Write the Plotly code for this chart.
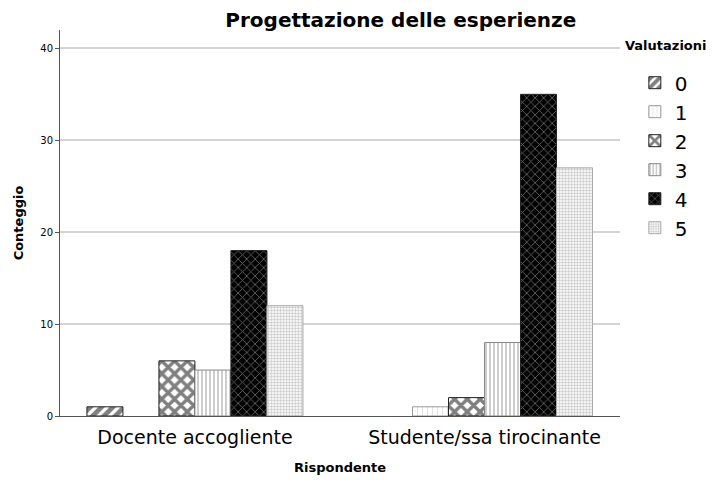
import plotly.graph_objects as go

categories = ["Docente accogliente", "Studente/ssa tirocinante"]
ratings = ["0", "1", "2", "3", "4", "5"]
counts = {
    "0": [1, 0],
    "1": [0, 1],
    "2": [6, 2],
    "3": [5, 8],
    "4": [18, 35],
    "5": [12, 27],
}

patterns = {
    "0": dict(shape="/", bgcolor="white", fgcolor="black", solidity=0.6, size=8),
    "1": dict(shape="|", bgcolor="white", fgcolor="#999999", solidity=0.12, size=5),
    "2": dict(shape="x", bgcolor="white", fgcolor="black", solidity=0.6, size=9),
    "3": dict(shape="|", bgcolor="white", fgcolor="#555555", solidity=0.3, size=4),
    "4": dict(shape="x", bgcolor="black", fgcolor="#dddddd", solidity=0.25, size=6),
    "5": dict(shape=".", bgcolor="white", fgcolor="#999999", solidity=0.5, size=3),
}
outlines = {"0": "#222", "1": "#999", "2": "#222", "3": "#888", "4": "#222", "5": "#aaa"}

fig = go.Figure()
for r in ratings:
    vals = [v if v != 0 else None for v in counts[r]]
    fig.add_trace(go.Bar(
        x=categories, y=vals, name=r,
        marker=dict(color="white", pattern=patterns[r],
                    line=dict(color=outlines[r], width=1)),
    ))

fig.add_annotation(
    text="<b>Valutazioni</b>", xref="paper", yref="paper", x=1.005, y=0.961,
    xanchor="left", yanchor="middle", showarrow=False, font=dict(size=13),
)

fig.update_layout(
    width=709, height=472,
    barmode="group", bargap=0.254, bargroupgap=0,
    plot_bgcolor="white", paper_bgcolor="white",
    margin=dict(l=52, r=97, t=22, b=64, autoexpand=False),
    font=dict(family="DejaVu Sans", color="black"),
    title=dict(text="<b>Progettazione delle esperienze</b>", x=0.554, xanchor="center",
               y=0.99, yanchor="top", font=dict(size=20, family="DejaVu Sans")),
    legend=dict(
        x=1.0265, xanchor="left", y=0.914, yanchor="top",
        font=dict(size=20), tracegroupgap=0, itemwidth=30,
        bgcolor="rgba(0,0,0,0)",
    ),
    xaxis=dict(
        range=[-0.466, 1.468], showline=True, linecolor="#555", linewidth=1,
        tickfont=dict(size=19), ticks="", showgrid=False, ticklabelstandoff=4,
        automargin=False,
        title=dict(text="<b>Rispondente</b>", font=dict(size=13), standoff=16),
    ),
    yaxis=dict(
        range=[0, 42], tickvals=[0, 10, 20, 30, 40], showline=True, linecolor="#555",
        linewidth=1, ticks="outside", ticklen=4, tickcolor="#555",
        tickfont=dict(size=10), showgrid=True, gridcolor="#d4d4d4", gridwidth=1.5,
        zeroline=False, automargin=False,
        title=dict(text="<b>Conteggio</b>", font=dict(size=13), standoff=13),
    ),
)

fig.write_html("out.html")
